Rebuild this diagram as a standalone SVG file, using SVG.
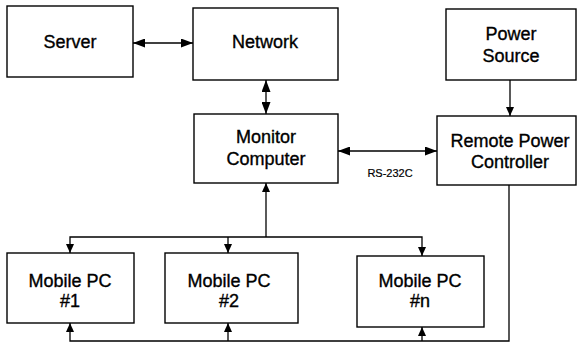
<svg xmlns="http://www.w3.org/2000/svg" width="578" height="345" viewBox="0 0 578 345">
<defs>
<marker id="ah" markerUnits="userSpaceOnUse" markerWidth="13" markerHeight="9" refX="12" refY="4.5" orient="auto-start-reverse"><path d="M0,0 L12,4.5 L0,9 Z" fill="#000"/></marker>
<marker id="as" markerUnits="userSpaceOnUse" markerWidth="10" markerHeight="8" refX="9" refY="4" orient="auto-start-reverse"><path d="M0,0 L9,4 L0,8 Z" fill="#000"/></marker>
</defs>
<style>
rect{fill:#fff;stroke:#000;stroke-width:1.4}
text{font-family:"Liberation Sans",Arial,sans-serif;font-size:18px;fill:#000;stroke:#000;stroke-width:0.35;text-anchor:middle}
.c{fill:none;stroke:#000;stroke-width:1.3}
.s{font-size:11px;stroke-width:0.2}
</style>
<rect x="0" y="0" width="578" height="345" style="fill:#fff;stroke:none"/>
<g id="connectors">
<line class="c" x1="133" y1="43" x2="193" y2="43" marker-start="url(#ah)" marker-end="url(#ah)"/>
<line class="c" x1="266" y1="80" x2="266" y2="114" marker-start="url(#ah)" marker-end="url(#ah)"/>
<line class="c" x1="510" y1="80" x2="510" y2="116" marker-end="url(#as)"/>
<line class="c" x1="338" y1="151" x2="437" y2="151" marker-start="url(#ah)" marker-end="url(#ah)"/>
<text class="s" x="390" y="177">RS-232C</text>
<line class="c" x1="266" y1="237" x2="266" y2="183" marker-end="url(#as)"/>
<polyline class="c" points="70,253 70,237 422,237 422,256" marker-start="url(#as)" marker-end="url(#as)"/>
<line class="c" x1="228" y1="237" x2="228" y2="253" marker-end="url(#as)"/>
<polyline class="c" points="509,185 509,341 70,341 70,323" marker-end="url(#as)"/>
<line class="c" x1="228" y1="341" x2="228" y2="323" marker-end="url(#as)"/>
<line class="c" x1="422" y1="341" x2="422" y2="327" marker-end="url(#as)"/>
</g>
<g id="server"><rect x="7" y="6" width="126" height="71"/><text x="70" y="48">Server</text></g>
<g id="network"><rect x="193" y="8" width="145" height="72"/><text x="265" y="48">Network</text></g>
<g id="power-source"><rect x="446" y="9" width="130" height="71"/><text x="511" y="40">Power</text><text x="511" y="62">Source</text></g>
<g id="monitor-computer"><rect x="194" y="114" width="144" height="69"/><text x="266" y="143">Monitor</text><text x="266" y="165">Computer</text></g>
<g id="remote-power-controller"><rect x="437" y="116" width="139" height="69"/><text x="510" y="147">Remote Power</text><text x="510" y="168">Controller</text></g>
<g id="mobile-pc-1"><rect x="7" y="253" width="127" height="70"/><text x="70" y="287">Mobile PC</text><text x="70" y="307">#1</text></g>
<g id="mobile-pc-2"><rect x="165" y="253" width="133" height="70"/><text x="229" y="287">Mobile PC</text><text x="229" y="307">#2</text></g>
<g id="mobile-pc-n"><rect x="357" y="256" width="127" height="71"/><text x="420" y="287">Mobile PC</text><text x="420" y="307">#n</text></g>
</svg>
